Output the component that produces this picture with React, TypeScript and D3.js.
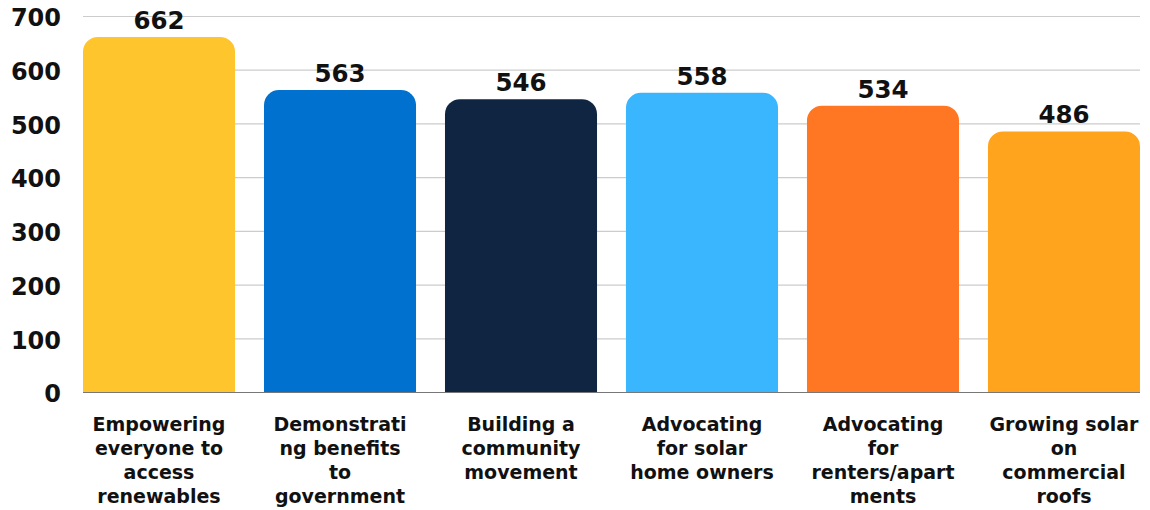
import React from "react";
import * as d3 from "d3";

const categories: string[][] = [
  ["Empowering", "everyone to", "access", "renewables"],
  ["Demonstrati", "ng benefits", "to", "government"],
  ["Building a", "community", "movement"],
  ["Advocating", "for solar", "home owners"],
  ["Advocating", "for", "renters/apart", "ments"],
  ["Growing solar", "on", "commercial", "roofs"],
];
const values: number[] = [662, 563, 546, 558, 534, 486];
const colors: string[] = ["#FFC52C", "#0071CE", "#0F2542", "#3AB6FF", "#FF7722", "#FFA41C"];
const yTicks: number[] = [0, 100, 200, 300, 400, 500, 600, 700];

const W = 1150;
const H = 510;
const FONT = "'DejaVu Sans', 'Open Sans', sans-serif";

export default function App() {
  const x = d3
    .scaleBand<number>()
    .domain(values.map((_, i) => i))
    .range([83, 1140])
    .paddingInner(0.16)
    .paddingOuter(0);
  const y = d3.scaleLinear().domain([0, 700]).range([392.5, 16.5]);
  const r = 15;

  const barPath = (i: number) => {
    const x0 = x(i)!;
    const w = x.bandwidth();
    const top = y(values[i]);
    const bot = y(0);
    return `M${x0},${bot}V${top + r}A${r},${r} 0 0 1 ${x0 + r},${top}H${x0 + w - r}A${r},${r} 0 0 1 ${x0 + w},${top + r}V${bot}Z`;
  };

  return (
    <svg width={W} height={H} style={{ position: "absolute", left: 0, top: 0, background: "#fff" }}>
      {yTicks.map((t) => (
        <g key={t}>
          {t !== 0 && (
            <line x1={83} x2={1140} y1={y(t)} y2={y(t)} stroke="#CCCCCC" strokeWidth={1.2} />
          )}
          <text
            x={61}
            y={y(t)}
            dy="0.41em"
            textAnchor="end"
            fontFamily={FONT}
            fontWeight={700}
            fontSize={24}
            fill="#111"
          >
            {t}
          </text>
        </g>
      ))}
      {values.map((v, i) => (
        <g key={i}>
          <path d={barPath(i)} fill={colors[i]} />
          <text
            x={x(i)! + x.bandwidth() / 2}
            y={y(v) - 8}
            textAnchor="middle"
            fontFamily={FONT}
            fontWeight={700}
            fontSize={24.5}
            fill="#111"
          >
            {v}
          </text>
        </g>
      ))}
      <line x1={83} x2={1140} y1={y(0)} y2={y(0)} stroke="#777" strokeWidth={1.2} />
      {categories.map((lines, i) => (
        <text
          key={i}
          x={x(i)! + x.bandwidth() / 2}
          textAnchor="middle"
          fontFamily={FONT}
          fontWeight={700}
          fontSize={19}
          fill="#111"
        >
          {lines.map((l, j) => (
            <tspan key={j} x={x(i)! + x.bandwidth() / 2} y={431 + j * 24}>
              {l}
            </tspan>
          ))}
        </text>
      ))}
    </svg>
  );
}
